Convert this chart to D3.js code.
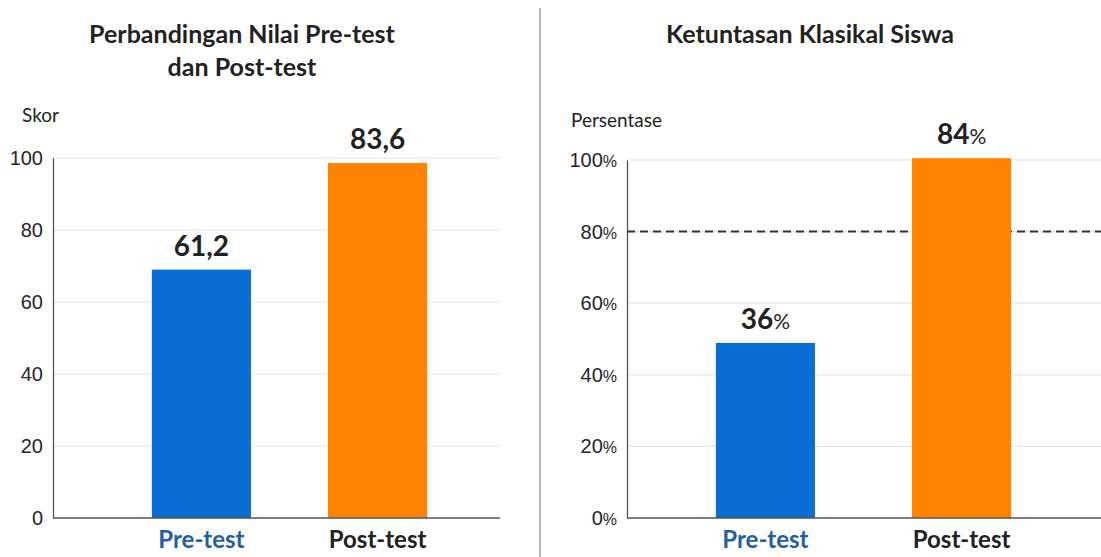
<!DOCTYPE html>
<html>
<head>
<meta charset="utf-8">
<script src="https://cdn.jsdelivr.net/npm/d3@7"></script>
<style>
  body { margin: 0; background: #fff; }
  svg { display: block; font-family: Lato, "Open Sans", sans-serif; }
  .title { font-size: 25px; font-weight: 700; fill: #222; }
  .unit { font-size: 19px; fill: #222; }
  .tick text { font-size: 20px; fill: #262626; }
  .bar-label { font-size: 28px; font-weight: 700; fill: #222; }
  .cat { font-size: 24px; font-weight: 700; }
</style>
</head>
<body>
<svg width="1101" height="557"></svg>
<script>
// categories
const categories = ['Pre-test', 'Post-test'];

// left chart: average scores (label values) and bar heights as drawn
const scoreValues = [61.2, 83.6];
const scoreBarHeights = [69, 98.6];
const scoreTicks = [0, 20, 40, 60, 80, 100];

// right chart: classical mastery percentages and bar heights as drawn
const masteryValues = [36, 84];
const masteryBarHeights = [48.9, 100.5];
const masteryTicks = [0, 20, 40, 60, 80, 100];
const masteryThreshold = 80;

const barColors = ['#0a6ed6', '#ff8200'];
const catColors = ['#1f5fa6', '#222'];

const svg = d3.select('svg');

// divider between the two panels
svg.append('line')
  .attr('x1', 540).attr('x2', 540)
  .attr('y1', 8).attr('y2', 557)
  .attr('stroke', '#9a9a9a').attr('stroke-width', 1.5);

const drawPanel = opts => {
  const g = svg.append('g');

  const yScale = d3.scaleLinear()
    .domain([0, 100])
    .range([518, opts.yTop]);

  const xScale = d3.scaleBand()
    .domain(categories)
    .range(opts.xRange)
    .paddingInner(opts.padInner)
    .paddingOuter(0.3);

  // gridlines
  g.selectAll('.grid').data(opts.ticks.filter(t => t > 0))
    .enter().append('line')
      .attr('class', 'grid')
      .attr('x1', opts.axisX).attr('x2', opts.gridEnd)
      .attr('y1', d => yScale(d)).attr('y2', d => yScale(d))
      .attr('stroke', '#e4e4e4').attr('stroke-width', 1.2);

  // y axis
  const yAxis = d3.axisLeft(yScale)
    .tickValues(opts.ticks)
    .tickSize(0)
    .tickPadding(10)
    .tickFormat(d => d);

  const yAxisG = g.append('g')
    .attr('transform', `translate(${opts.axisX},0)`)
    .call(yAxis);
  yAxisG.select('.domain').attr('stroke', '#555').attr('stroke-width', 1.3);
  if (opts.percent) {
    yAxisG.selectAll('.tick text').each(function (d) {
      const t = d3.select(this).text('');
      t.append('tspan').text(d);
      t.append('tspan').attr('font-size', '16px').text('%');
    });
  }

  // threshold line
  if (opts.threshold != null) {
    g.append('line')
      .attr('x1', opts.axisX).attr('x2', opts.gridEnd)
      .attr('y1', yScale(opts.threshold)).attr('y2', yScale(opts.threshold))
      .attr('stroke', '#333').attr('stroke-width', 2)
      .attr('stroke-dasharray', '8,5');
  }

  // bars
  g.selectAll('rect').data(categories)
    .enter().append('rect')
      .attr('x', d => xScale(d))
      .attr('width', xScale.bandwidth())
      .attr('y', (d, i) => yScale(opts.heights[i]))
      .attr('height', (d, i) => yScale(0) - yScale(opts.heights[i]))
      .attr('fill', (d, i) => barColors[i]);

  // x axis line
  g.append('line')
    .attr('x1', opts.axisX).attr('x2', opts.gridEnd)
    .attr('y1', yScale(0)).attr('y2', yScale(0))
    .attr('stroke', '#555').attr('stroke-width', 1.5);

  // value labels
  g.selectAll('.bar-label').data(categories)
    .enter().append('text')
      .attr('class', 'bar-label')
      .attr('x', d => xScale(d) + xScale.bandwidth() / 2)
      .attr('y', (d, i) => yScale(opts.heights[i]) - 14)
      .attr('text-anchor', 'middle')
      .each(function (d, i) {
        const t = d3.select(this);
        if (opts.percent) {
          t.append('tspan').text(opts.values[i]);
          t.append('tspan').attr('font-size', '21px').attr('font-weight', 400).text('%');
        } else {
          t.text(String(opts.values[i]).replace('.', ','));
        }
      });

  // category labels
  g.selectAll('.cat').data(categories)
    .enter().append('text')
      .attr('class', 'cat')
      .attr('x', d => xScale(d) + xScale.bandwidth() / 2)
      .attr('y', 548)
      .attr('text-anchor', 'middle')
      .attr('fill', (d, i) => catColors[i])
      .text(d => d);

  // title
  const title = g.append('text')
    .attr('class', 'title')
    .attr('x', opts.titleX)
    .attr('text-anchor', 'middle');
  opts.title.forEach((line, i) => {
    title.append('tspan')
      .attr('x', opts.titleX)
      .attr('y', 43 + i * 33)
      .text(line);
  });

  // unit label
  g.append('text')
    .attr('class', 'unit')
    .attr('x', opts.unitX)
    .attr('y', opts.unitY)
    .text(opts.unit);
};

drawPanel({
  title: ['Perbandingan Nilai Pre-test', 'dan Post-test'],
  titleX: 242,
  unit: 'Skor', unitX: 22, unitY: 122,
  axisX: 53, gridEnd: 500, yTop: 158,
  xRange: [99, 480], padInner: 0.4375,
  ticks: scoreTicks,
  values: scoreValues,
  heights: scoreBarHeights,
  percent: false
});

drawPanel({
  title: ['Ketuntasan Klasikal Siswa'],
  titleX: 810,
  unit: 'Persentase', unitX: 571, unitY: 127,
  axisX: 627, gridEnd: 1101, yTop: 160,
  xRange: [657, 1070], padInner: 0.495,
  ticks: masteryTicks,
  values: masteryValues,
  heights: masteryBarHeights,
  threshold: masteryThreshold,
  percent: true
});
</script>
</body>
</html>
